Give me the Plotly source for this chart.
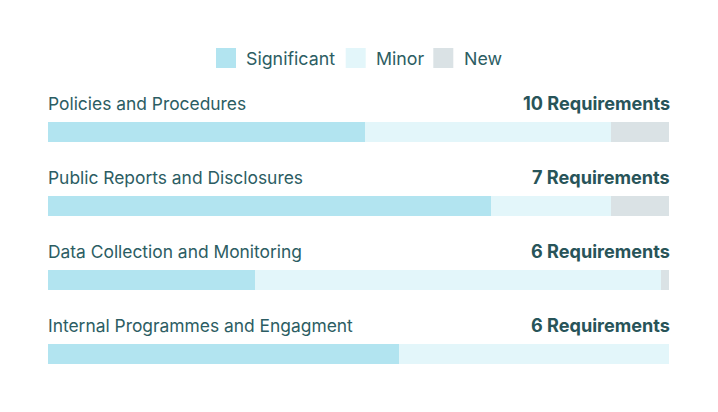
import plotly.graph_objects as go

categories = ["Policies and Procedures", "Public Reports and Disclosures",
              "Data Collection and Monitoring", "Internal Programmes and Engagment"]
requirements = ["10 Requirements", "7 Requirements", "6 Requirements", "6 Requirements"]
significant = [51.0, 71.4, 33.4, 56.5]
minor = [39.7, 19.2, 65.3, 43.5]
new = [9.3, 9.4, 1.3, 0.0]

series = [("Significant", significant, "#b2e4f0"),
          ("Minor", minor, "#e3f6fa"),
          ("New", new, "#dae2e5")]

FONT = "Inter, Roboto, sans-serif"
TXT = "#2c5d63"

W, H = 718, 412
L, R, T, B = 48, 49, 95, 21
pw, ph = W - L - R, H - T - B

fig = go.Figure()
ypos = list(range(len(categories)))
for name, vals, col in series:
    fig.add_trace(go.Bar(y=ypos, x=vals, orientation="h", name=name,
                         marker=dict(color=col, line=dict(width=0)),
                         width=20 / 74, hoverinfo="skip", showlegend=False))

ann = []
for i, (c, r) in enumerate(zip(categories, requirements)):
    ann.append(dict(x=0, xref="paper", y=i, yref="y", yshift=29, xshift=-2, text=c,
                    showarrow=False, xanchor="left", yanchor="middle",
                    font=dict(family=FONT, size=17.4, color=TXT)))
    ann.append(dict(x=1, xref="paper", y=i, yref="y", yshift=29, xshift=3,
                    text="<b>" + r + "</b>",
                    showarrow=False, xanchor="right", yanchor="middle",
                    font=dict(family=FONT, size=18.1, color="#285459")))

# legend drawn as shapes + text
def px2x(px):
    return (px - L) / pw

def py2y(py):
    return (H - B - py) / ph

shapes = []
leg_sq = [216, 345.7, 433.3]
leg_tx = [244, 374, 462.3]
for (name, _, col), sx, tx in zip(series, leg_sq, leg_tx):
    shapes.append(dict(type="rect", xref="paper", yref="paper",
                       x0=px2x(sx), x1=px2x(sx + 20), y0=py2y(68), y1=py2y(48),
                       fillcolor=col, line=dict(width=0)))
    ann.append(dict(x=px2x(tx), xref="paper", y=py2y(58), yref="paper", text=name,
                    showarrow=False, xanchor="left", yanchor="middle",
                    font=dict(family=FONT, size=17.8, color=TXT)))

fig.update_layout(
    width=W, height=H, barmode="stack", bargap=0,
    margin=dict(l=L, r=R, t=T, b=B),
    paper_bgcolor="white", plot_bgcolor="white",
    xaxis=dict(range=[0, 100], visible=False, fixedrange=True),
    yaxis=dict(range=[3.5, -0.5], visible=False, fixedrange=True),
    annotations=ann, shapes=shapes, showlegend=False,
)
fig.write_html("out.html")
